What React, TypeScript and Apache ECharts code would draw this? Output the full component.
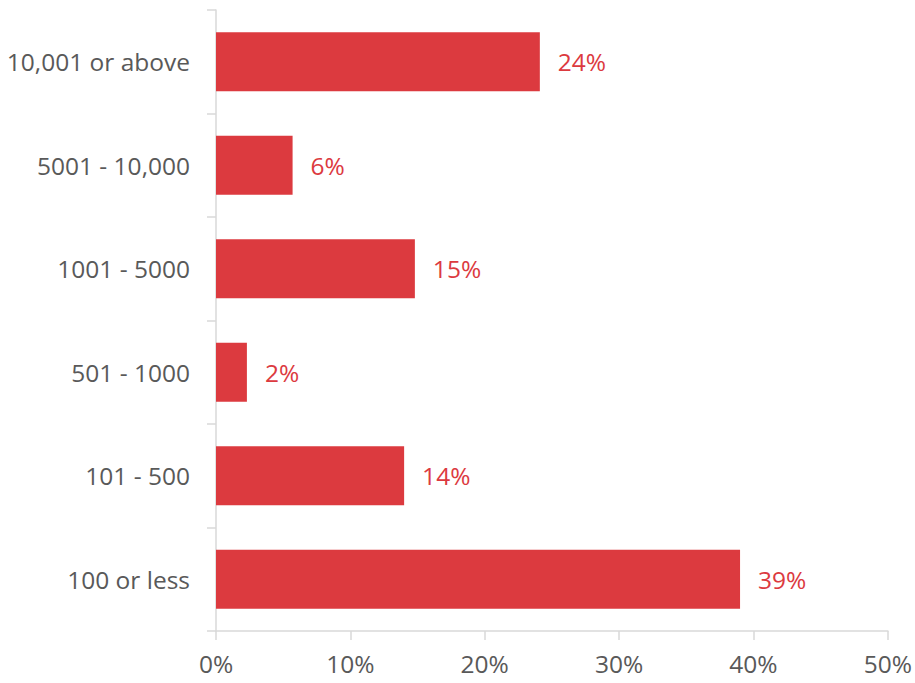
import React, { useEffect, useRef } from "react";
import * as echarts from "echarts";

const categories = ["100 or less", "101 - 500", "501 - 1000", "1001 - 5000", "5001 - 10,000", "10,001 or above"];
const values = [39, 14, 2.3, 14.8, 5.7, 24.1];
const labels = ["39%", "14%", "2%", "15%", "6%", "24%"];

export default function App() {
  const ref = useRef<HTMLDivElement>(null);
  useEffect(() => {
    const chart = echarts.init(ref.current!, null, { renderer: "svg" });
    const font = "Open Sans, Liberation Sans, sans-serif";
    chart.setOption({
      animation: false,
      grid: { left: 216, right: 27, top: 10, bottom: 52, containLabel: false },
      xAxis: {
        type: "value",
        min: 0,
        max: 50,
        interval: 10,
        axisLine: { show: true, lineStyle: { color: "#d9d9d9", width: 1.5 } },
        axisTick: { show: true, length: 9, lineStyle: { color: "#d9d9d9", width: 1.5 } },
        splitLine: { show: false },
        axisLabel: { formatter: "{value}%", color: "#595959", fontSize: 24.5, fontFamily: font, margin: 20 },
      },
      yAxis: {
        type: "category",
        data: categories,
        axisLine: { show: true, lineStyle: { color: "#d9d9d9", width: 1.5 } },
        axisTick: { show: true, length: 9, lineStyle: { color: "#d9d9d9", width: 1.5 } },
        axisLabel: { color: "#595959", fontSize: 24.5, fontFamily: font, margin: 26 },
      },
      series: [
        {
          type: "bar",
          data: values,
          barWidth: "57%",
          itemStyle: { color: "#dc3a3f" },
          label: {
            show: true,
            position: "right",
            distance: 18,
            color: "#dc3a3f",
            fontSize: 24.5,
            fontFamily: font,
            formatter: (p: any) => labels[p.dataIndex],
          },
        },
      ],
    });
    return () => chart.dispose();
  }, []);
  return <div ref={ref} style={{ width: 915, height: 683, position: "absolute", left: 0, top: 0 }} />;
}
